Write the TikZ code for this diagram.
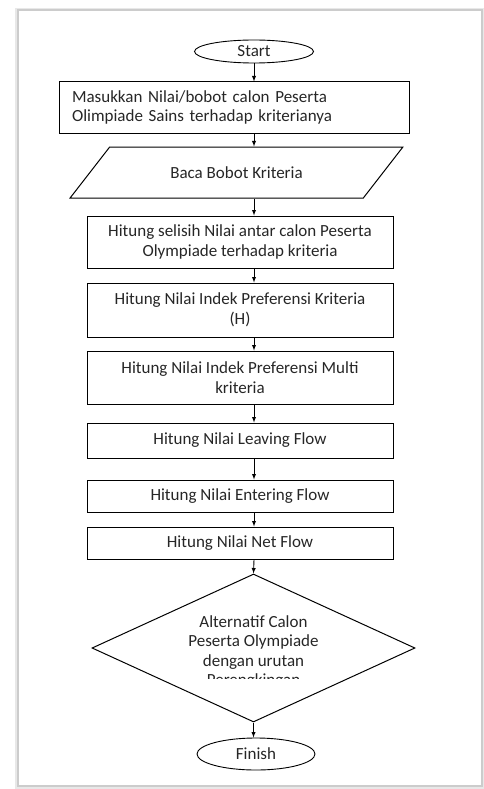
\documentclass[tikz,border=0pt]{standalone}
\usepackage{fontspec}
\setmainfont{Carlito}
\usepackage{tikz}
\usetikzlibrary{positioning}
\usetikzlibrary{arrows,shapes}
\usetikzlibrary{shapes.geometric}
\usetikzlibrary{calc}

\tikzset{
  proses/.style={draw, line width=1pt, rectangle, minimum width=306pt, inner sep=2pt, align=center, text=black!85},
  terminal/.style={draw, line width=0.9pt, ellipse, inner sep=0pt, text=black!85},
  panah/.style={-latex, line width=0.9pt}
}

\begin{document}
\begin{tikzpicture}[x=1pt, y=-1pt, font=\fontsize{17}{19.5}\selectfont]
\useasboundingbox (0,0) rectangle (483,789);

% page frame
\draw[gray!18, line width=3pt] (16,10) rectangle (482,787);
\draw[gray!40, line width=1.2pt] (18,10) rectangle (482,786);

% start
\node[terminal, minimum width=119pt, minimum height=23pt] (start) at (254,51.5) {Start};

% input
\node[proses, minimum width=350pt, minimum height=51pt, text width=324pt, align=left] (masukkan) at (234,107.5)
  {Masukkan Nilai/bobot calon Peserta\\Olimpiade Sains terhadap kriterianya};

\node[draw, line width=1pt, trapezium, trapezium stretches=true, trapezium left angle=30, trapezium right angle=150,
  minimum width=333pt, minimum height=51pt, inner sep=0pt, text=black!85] (baca) at (236.5,172.5) {Baca Bobot Kriteria};

% hitung
\node[proses, minimum height=52pt] (selisih) at (240,242) {Hitung selisih Nilai antar calon Peserta\\Olympiade terhadap kriteria};
\node[proses, minimum height=54pt] (indek) at (240,310) {Hitung Nilai Indek Preferensi Kriteria\\(H)};
\node[proses, minimum height=53pt] (multi) at (240,377.5) {Hitung Nilai Indek Preferensi Multi\\kriteria};
\node[proses, minimum height=35pt] (leaving) at (240,440.5) {Hitung Nilai Leaving Flow};
\node[proses, minimum height=32pt] (entering) at (240,496) {Hitung Nilai Entering Flow};
\node[proses, minimum height=32pt] (netflow) at (240,543) {Hitung Nilai Net Flow};

% hasil
\node[draw, line width=1pt, diamond, minimum width=323pt, minimum height=148pt, inner sep=0pt] (hasil) at (253.5,648) {};
\begin{scope}
\clip (0,0) rectangle (483,678);
\node[align=center, text=black!85] (hasilteks) at (253.5,652) {Alternatif Calon\\Peserta Olympiade\\dengan urutan\\Perengkingan};
\end{scope}

% finish
\node[terminal, minimum width=118pt, minimum height=32pt] (finish) at (256,754) {Finish};

% arrows
\coordinate (jalur) at (254,0);
\draw[panah] (start.south) -- (start.south |- masukkan.north);
\draw[panah] (jalur |- masukkan.south) -- (jalur |- baca.north);
\draw[panah] (jalur |- baca.south) -- (jalur |- selisih.north);
\draw[panah] (jalur |- selisih.south) -- (jalur |- indek.north);
\draw[panah] (jalur |- indek.south) -- (jalur |- multi.north);
\draw[panah] (jalur |- multi.south) -- (jalur |- leaving.north);
\draw[panah] (jalur |- leaving.south) -- (jalur |- entering.north);
\draw[panah] (jalur |- entering.south) -- (jalur |- netflow.north);
\draw[panah] (jalur |- netflow.south) -- (hasil.north);
\draw[panah] (hasil.south) -- (hasil.south |- finish.north);

\end{tikzpicture}
\end{document}
